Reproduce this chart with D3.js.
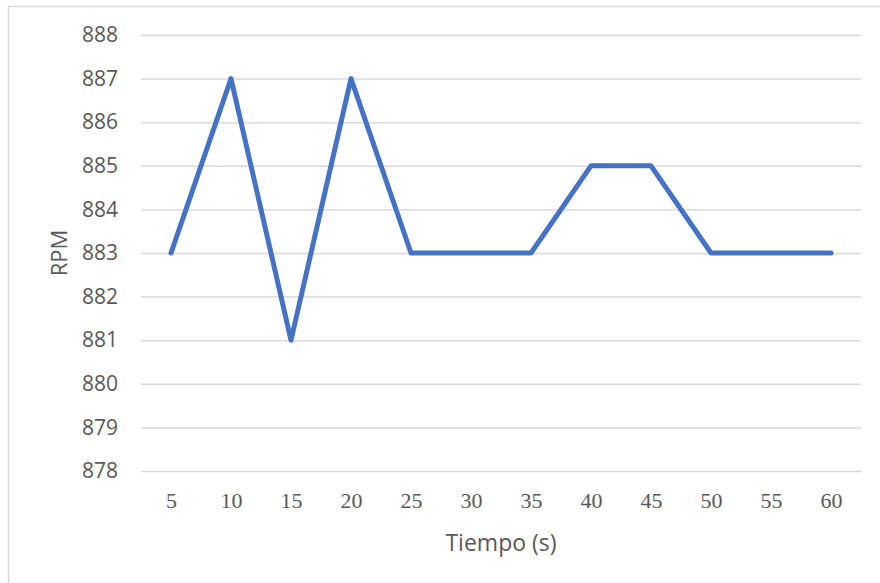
<!DOCTYPE html>
<html>
<head>
<meta charset="utf-8">
<script src="https://cdn.jsdelivr.net/npm/d3@7"></script>
<style>
  html, body { margin: 0; padding: 0; background: #fff; }
  svg { display: block; }
</style>
</head>
<body>
<svg id="chart" width="880" height="583"></svg>
<script>
// Engine speed sampled every 5 seconds
const tiempos = ["5", "10", "15", "20", "25", "30", "35", "40", "45", "50", "55", "60"];
const rpm = [883, 887, 881, 887, 883, 883, 883, 885, 885, 883, 883, 883];
const yTicks = [878, 879, 880, 881, 882, 883, 884, 885, 886, 887, 888];

const svg = d3.select("#chart");
const W = 880, H = 583;
const plot = { left: 141, right: 861, top: 35, bottom: 471 };

// Outer chart frame
svg.append("rect")
  .attr("x", 8.5).attr("y", 6.5)
  .attr("width", W + 10).attr("height", H + 10)
  .attr("fill", "#fff")
  .attr("stroke", "#d9d9d9").attr("stroke-width", 1.5);

const x = d3.scalePoint()
  .domain(tiempos)
  .range([plot.left, plot.right])
  .padding(0.5);

const y = d3.scaleLinear()
  .domain([878, 888])
  .range([plot.bottom, plot.top]);

// Horizontal gridlines with value labels
const yAxis = d3.axisLeft(y)
  .tickValues(yTicks)
  .tickFormat(d3.format("d"))
  .tickSize(-(plot.right - plot.left))
  .tickPadding(23);

const gy = svg.append("g")
  .attr("transform", `translate(${plot.left},0)`)
  .call(yAxis);
gy.select(".domain").remove();
gy.selectAll(".tick line")
  .attr("stroke", "#d9d9d9").attr("stroke-width", 1.5);
gy.selectAll(".tick text")
  .attr("fill", "#595959")
  .style("font-family", "'Open Sans', sans-serif")
  .style("font-size", "21px");

// Category labels along the bottom
const xAxis = d3.axisBottom(x).tickSize(0).tickPadding(21);
const gx = svg.append("g")
  .attr("transform", `translate(0,${plot.bottom})`)
  .call(xAxis);
gx.select(".domain").remove();
gx.selectAll(".tick text")
  .attr("fill", "#595959")
  .style("font-family", "'Liberation Serif', 'Times New Roman', serif")
  .style("font-size", "22px");

// Series line
const line = d3.line()
  .x((d, i) => x(tiempos[i]))
  .y(d => y(d));

svg.append("path")
  .datum(rpm)
  .attr("d", line)
  .attr("fill", "none")
  .attr("stroke", "#4472c4")
  .attr("stroke-width", 5)
  .attr("stroke-linejoin", "round")
  .attr("stroke-linecap", "round");

// Axis titles
svg.append("text")
  .attr("x", (plot.left + plot.right) / 2)
  .attr("y", 551)
  .attr("text-anchor", "middle")
  .attr("fill", "#595959")
  .style("font-family", "'Open Sans', sans-serif")
  .style("font-size", "23px")
  .text("Tiempo (s)");

svg.append("text")
  .attr("transform", `translate(67,${(plot.top + plot.bottom) / 2}) rotate(-90)`)
  .attr("text-anchor", "middle")
  .attr("fill", "#595959")
  .style("font-family", "'Open Sans', sans-serif")
  .style("font-size", "22px")
  .text("RPM");
</script>
</body>
</html>
